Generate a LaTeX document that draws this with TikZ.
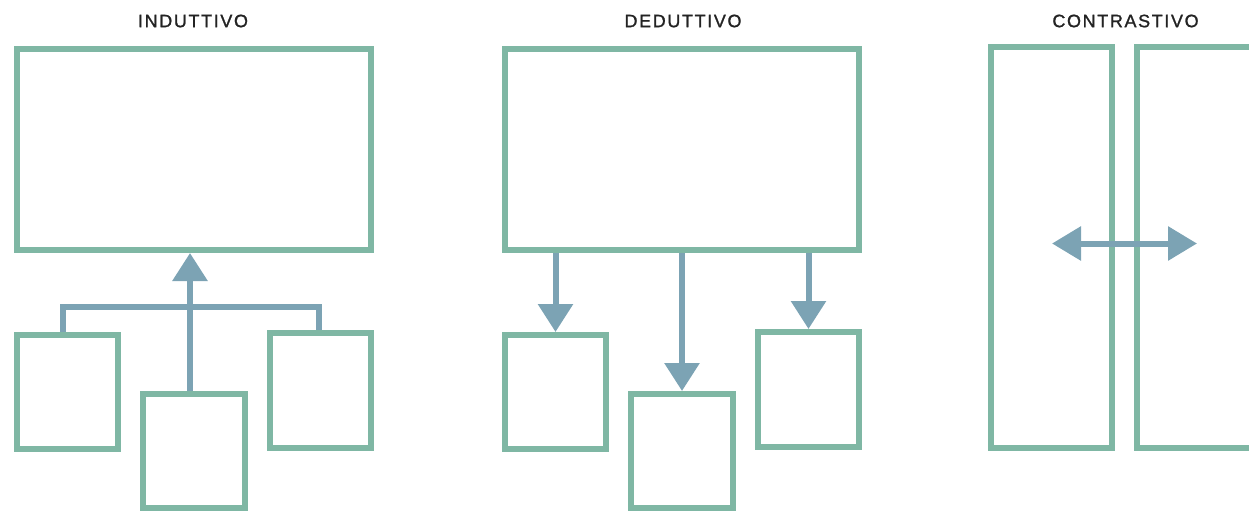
\documentclass[tikz,border=0pt]{standalone}
\usepackage{fontspec}
\setmainfont{Liberation Sans}[LetterSpace=9, FakeBold=1.2]
\usetikzlibrary{arrows.meta,calc}
\definecolor{boxgreen}{RGB}{127,183,164}
\definecolor{arrowblue}{RGB}{124,163,180}
\definecolor{titlegray}{RGB}{35,35,35}
\tikzset{
  panel/.style={draw=boxgreen, line width=6pt, inner sep=0pt, outer sep=3pt, rectangle, anchor=north west},
  link/.style={draw=arrowblue, line width=6pt, line join=miter},
  tip/.style={-{Triangle[length=28pt,width=34pt]}},
  title/.style={text=titlegray, font=\fontsize{18}{20}\selectfont, inner sep=0pt}
}
\begin{document}
\begin{tikzpicture}[x=1pt,y=-1pt]
\useasboundingbox (0,0) rectangle (1249,511);
\clip (0,0) rectangle (1249,511);
% titles
\node[title] (t1) at (193,21) {INDUTTIVO};
\node[title] (t2) at (683,21) {DEDUTTIVO};
\node[title] (t3) at (1125.5,21) {CONTRASTIVO};
% induttivo (anchors at outer top-left corners)
\node[panel, minimum width=354pt, minimum height=201pt] (I) at (14,46) {};
\node[panel, minimum width=101pt, minimum height=114pt] (IL) at (14,332) {};
\node[panel, minimum width=102pt, minimum height=114pt] (IM) at (140,391) {};
\node[panel, minimum width=101pt, minimum height=115pt] (IR) at (267,330) {};
\coordinate (ia) at (190,0);
\coordinate (il) at (63,306.5);
\coordinate (ir) at (319,306.5);
\draw[link] (il |- IL.north) -- (il) -- (ir) -- (ir |- IR.north);
\draw[link, tip] (ia |- IM.north) -- (ia |- I.south);
% deduttivo
\node[panel, minimum width=354pt, minimum height=201pt] (D) at (502,46) {};
\node[panel, minimum width=101pt, minimum height=114pt] (DL) at (502,332) {};
\node[panel, minimum width=102pt, minimum height=114pt] (DM) at (628,391) {};
\node[panel, minimum width=101pt, minimum height=115pt] (DR) at (755,329) {};
\coordinate (da) at (555.5,0);
\coordinate (db) at (682,0);
\coordinate (dc) at (808.5,0);
\draw[link, tip] (da |- D.south) -- (da |- DL.north);
\draw[link, tip] (db |- D.south) -- (db |- DM.north);
\draw[link, tip] (dc |- D.south) -- (dc |- DR.north);
% contrastivo
\node[panel, minimum width=121pt, minimum height=401pt] (CL) at (988,44) {};
\node[panel, minimum width=121pt, minimum height=401pt] (CR) at (1134,44) {};
\coordinate (ca) at (1052,243.5);
\coordinate (cb) at (1197,243.5);
\draw[link, {Triangle[length=29pt,width=33pt]}-{Triangle[length=29pt,width=33pt]}] (ca) -- (cb);
\end{tikzpicture}
\end{document}
